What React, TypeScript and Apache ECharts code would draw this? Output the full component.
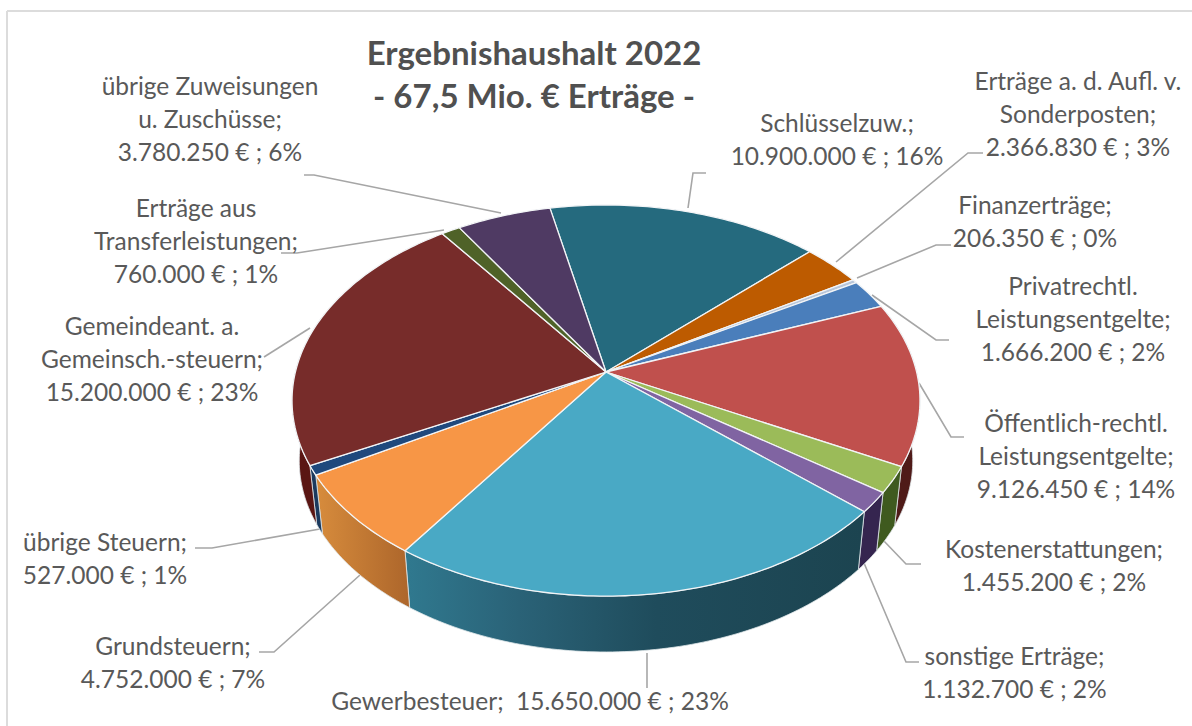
import React, { useEffect, useRef } from "react";
import * as echarts from "echarts";

const categories = [
  "Schlüsselzuw.",
  "Erträge a. d. Aufl. v. Sonderposten",
  "Finanzerträge",
  "Privatrechtl. Leistungsentgelte",
  "Öffentlich-rechtl. Leistungsentgelte",
  "Kostenerstattungen",
  "sonstige Erträge",
  "Gewerbesteuer",
  "Grundsteuern",
  "übrige Steuern",
  "Gemeindeant. a. Gemeinsch.-steuern",
  "Erträge aus Transferleistungen",
  "übrige Zuweisungen u. Zuschüsse",
];
const values = [10900000, 2366830, 206350, 1666200, 9126450, 1455200, 1132700, 15650000, 4752000, 527000, 15200000, 760000, 3780250];
const percents = [16, 3, 0, 2, 14, 2, 2, 23, 7, 1, 23, 1, 6];
const nameLines = [
  ["Schlüsselzuw.;"],
  ["Erträge a. d. Aufl. v.", "Sonderposten;"],
  ["Finanzerträge;"],
  ["Privatrechtl.", "Leistungsentgelte;"],
  ["Öffentlich-rechtl.", "Leistungsentgelte;"],
  ["Kostenerstattungen;"],
  ["sonstige Erträge;"],
  ["Gewerbesteuer; "],
  ["Grundsteuern;"],
  ["übrige Steuern;"],
  ["Gemeindeant. a.", "Gemeinsch.-steuern;"],
  ["Erträge aus", "Transferleistungen;"],
  ["übrige Zuweisungen", "u. Zuschüsse;"],
];
const titleLines = ["Ergebnishaushalt 2022", "- 67,5 Mio. € Erträge -"];

const topColors = ["#256a7e", "#bd5b00", "#b8c6da", "#4a7ebb", "#c0504d", "#9bbb59", "#8064a2", "#49a9c5", "#f79646", "#1f497d", "#772c2a", "#4f6228", "#4f3a63"];
const wallColors = ["#163f4b", "#7a3b00", "#7d8794", "#2b4a70", "#4f1a18", "#3f5a1f", "#35254f", "#1f4c5c", "#c27a34", "#1b3a5e", "#5a1613", "#3a4a1c", "#35254a"];

// label centre x, top of first line
const labelLayout: [number, number][] = [
  [837, 105.5], [1078, 63.5], [1035, 188], [1073, 268.5], [1076, 406], [1054, 531.5], [1014.5, 638.5], [530, 683.5], [173, 629], [105, 525], [152, 308.5], [196, 190.5], [210, 68.5],
];
const leaders: number[][][] = [
  [[688, 208], [693, 173], [706, 173]],
  [[836, 262], [968, 153], [983, 153]],
  [[857, 278], [936, 245], [951, 245]],
  [[872, 295], [936, 340], [949, 340]],
  [[919, 383], [951, 437], [964, 437]],
  [[883, 540], [906, 564], [921, 564]],
  [[864, 563], [906, 662], [919, 662]],
  [[647, 653], [647, 688]],
  [[360, 575], [274, 652], [259, 652]],
  [[320, 529], [212, 548], [195, 548]],
  [[310, 328], [264, 357]],
  [[444, 230], [297, 253], [281, 253]],
  [[501, 213], [314, 175], [304, 175]],
];

const FONT = "Lato";
const TEXT = "#595959";
const START_DEG = -11.9;
const APEX = { x: 606, y: 372 };
const RX = 310.6;
const RY = 191.4;
const K = -0.146;
const DROP = 61;
const SHRINK = 0.977;

const total = values.reduce((a, b) => a + b, 0);
const boundsOf = (i: number) => {
  const before = values.slice(0, i).reduce((a, b) => a + b, 0);
  return [START_DEG + (before / total) * 360, START_DEG + ((before + values[i]) / total) * 360];
};
const rim = (deg: number, lower: boolean) => {
  const t = (deg * Math.PI) / 180;
  const u = Math.sin(t);
  const v = -Math.cos(t);
  const d = 1 + K * v;
  const s = lower ? SHRINK : 1;
  return [APEX.x + (s * RX * u) / d, APEX.y + (lower ? DROP : 0) + (s * RY * v) / d];
};
const arcPoints = (a: number, b: number, lower: boolean) => {
  const n = Math.max(2, Math.ceil(b - a));
  const pts: number[][] = [];
  for (let i = 0; i <= n; i++) pts.push(rim(a + ((b - a) * i) / n, lower));
  return pts;
};
const fmt = (n: number) => String(n).replace(/\B(?=(\d{3})+(?!\d))/g, ".");

const wallFill = (i: number) => {
  if (categories[i] === "Gewerbesteuer")
    return new echarts.graphic.LinearGradient(405, 0, 862, 0, [
      { offset: 0, color: "#30798f" },
      { offset: 0.25, color: "#2a6277" },
      { offset: 0.55, color: "#1f4c5c" },
      { offset: 1, color: "#1c4450" },
    ], true);
  if (categories[i] === "Grundsteuern")
    return new echarts.graphic.LinearGradient(318, 0, 409, 0, [
      { offset: 0, color: "#d68b3c" },
      { offset: 1, color: "#ad662b" },
    ], true);
  return wallColors[i];
};

const seriesData = categories.map((name, i) => ({ name, value: values[i] }));

export default function App() {
  const ref = useRef<HTMLDivElement>(null);
  useEffect(() => {
    document.body.style.margin = "0";
    const chart = echarts.init(ref.current!, undefined, { renderer: "svg" });
    const labelText: any[] = categories.map((_, i) => {
      const valueLine = `${fmt(values[i])} € ; ${percents[i]}%`;
      const single = categories[i] === "Gewerbesteuer";
      const lines = single ? [nameLines[i][0] + " " + valueLine] : [...nameLines[i], valueLine];
      return {
        type: "text",
        silent: true,
        x: labelLayout[i][0],
        y: labelLayout[i][1],
        style: {
          text: lines.join("\n"),
          fontFamily: FONT,
          fontSize: 24.5,
          lineHeight: 33,
          fill: TEXT,
          align: "center",
          verticalAlign: "top",
        },
      };
    });
    const leaderLines: any[] = leaders.map((points) => ({
      type: "polyline",
      silent: true,
      shape: { points },
      style: { stroke: "#a6a6a6", lineWidth: 1.6, fill: "none" },
    }));
    chart.setOption({
      animation: false,
      backgroundColor: "#ffffff",
      series: [
        {
          type: "custom",
          name: "Seitenwände",
          coordinateSystem: "none",
          silent: true,
          clip: false,
          data: seriesData,
          renderItem: (params: any) => {
            const i = params.dataIndex;
            const [a, b] = boundsOf(i);
            const from = Math.max(a, 70);
            const to = Math.min(b, 290);
            if (to <= from) return { type: "group", children: [] };
            const top = arcPoints(from, to, false);
            const low = arcPoints(from, to, true).reverse();
            return {
              type: "polygon",
              shape: { points: [...top, ...low] },
              style: { fill: wallFill(i), stroke: "#dfe7ea", lineWidth: 0.8 },
            };
          },
        },
        {
          type: "custom",
          name: "Oberseite",
          coordinateSystem: "none",
          silent: true,
          clip: false,
          data: seriesData,
          renderItem: (params: any) => {
            const i = params.dataIndex;
            const [a, b] = boundsOf(i);
            return {
              type: "polygon",
              shape: { points: [[APEX.x, APEX.y], ...arcPoints(a, b, false)] },
              style: { fill: topColors[i], stroke: "#f2f4f6", lineWidth: 1.3, lineJoin: "round" },
            };
          },
        },
      ],
      graphic: [
        { type: "line", silent: true, shape: { x1: 7, y1: 11, x2: 1192, y2: 11 }, style: { stroke: "#dcdcdc", lineWidth: 2 } },
        { type: "line", silent: true, shape: { x1: 7, y1: 11, x2: 7, y2: 726 }, style: { stroke: "#dcdcdc", lineWidth: 2 } },
        {
          type: "text",
          silent: true,
          x: 534,
          y: 30.5,
          style: {
            text: titleLines.join("\n"),
            fontFamily: FONT,
            fontWeight: "bold",
            fontSize: 33,
            lineHeight: 43,
            fill: "#505050",
            align: "center",
            verticalAlign: "top",
          },
        },
        ...leaderLines,
        ...labelText,
      ],
    });
    return () => chart.dispose();
  }, []);
  return <div ref={ref} style={{ position: "absolute", left: 0, top: 0, width: 1192, height: 726 }} />;
}
